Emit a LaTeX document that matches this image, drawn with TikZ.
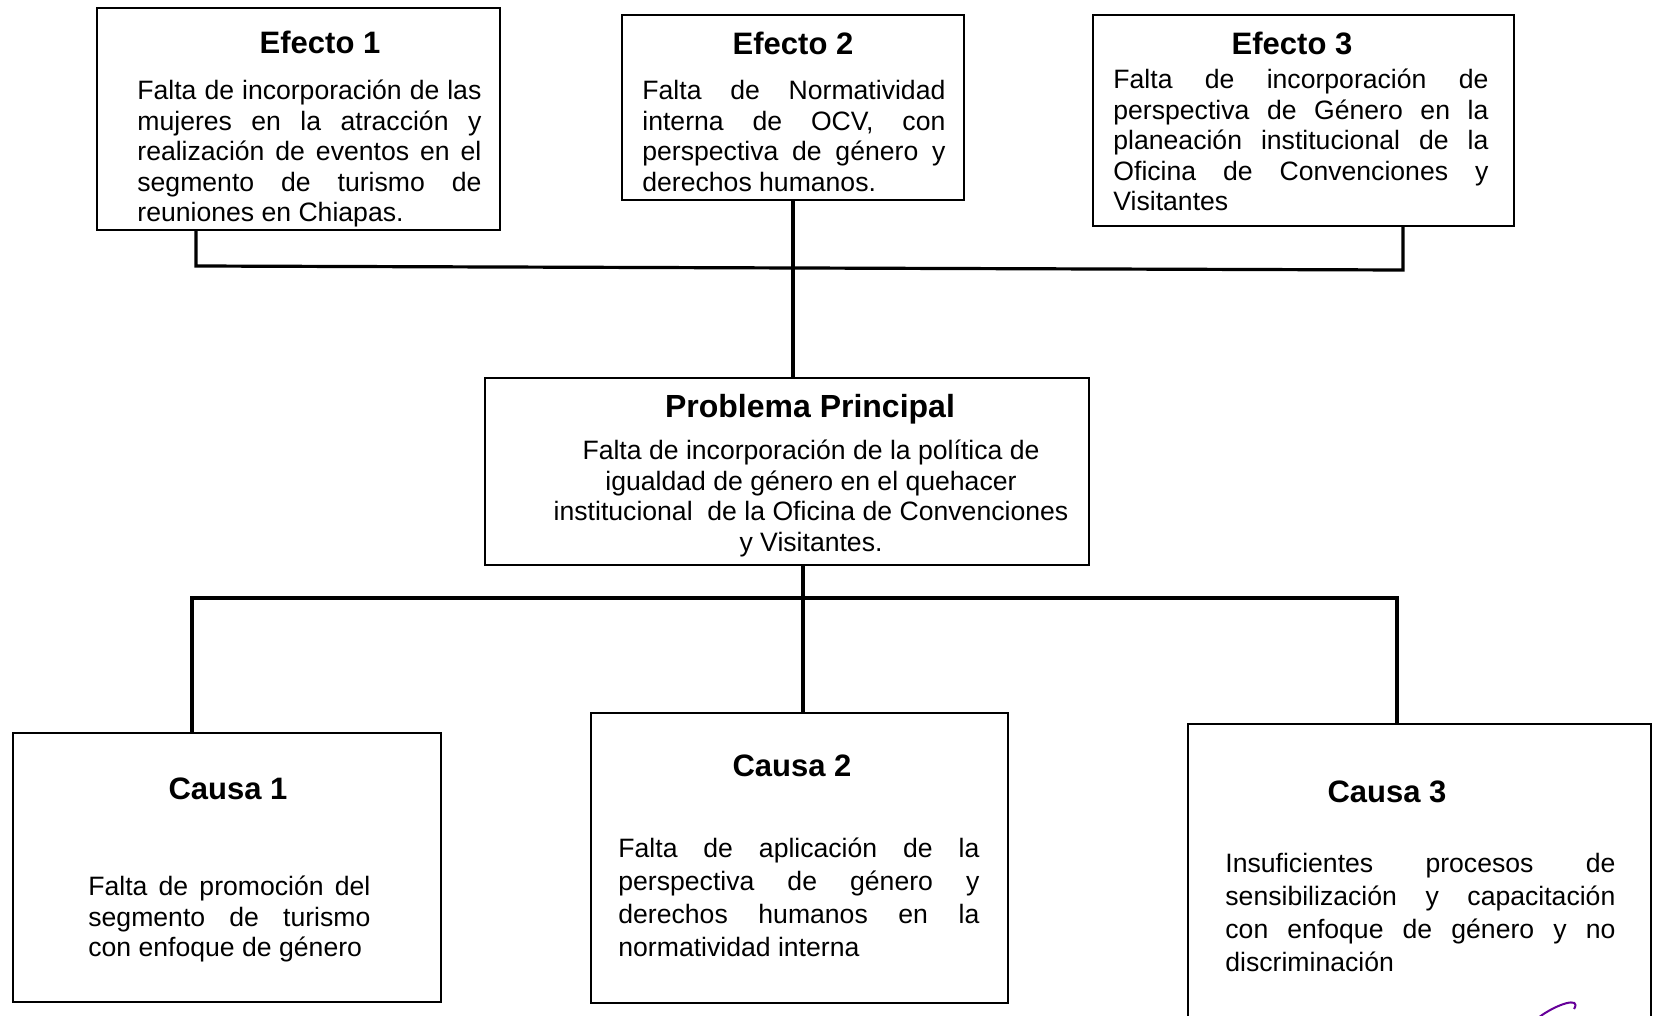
\documentclass[tikz,border=0pt]{standalone}
\usepackage{fontspec}
\setmainfont{Liberation Sans}
\begin{document}
\begin{tikzpicture}[x=0.5pt,y=-0.5pt,
  caja/.style={rectangle,draw,line width=0.8pt,inner sep=0pt},
  titulo/.style={font=\fontsize{15.5}{18}\selectfont\bfseries,inner sep=0pt},
  texto/.style={anchor=north west,align=justify,inner sep=0pt,font=\fontsize{13.3}{15.25}\selectfont},
  linea/.style={line width=1.6pt}]
\useasboundingbox (0,0) rectangle (1654,1016);

% efectos
\node[caja,minimum width=201.5pt,minimum height=111pt] (efecto1) at (298.5,119) {};
\node[caja,minimum width=171pt,minimum height=92.5pt] (efecto2) at (793,107.5) {};
\node[caja,minimum width=210.5pt,minimum height=105.5pt] (efecto3) at (1303.5,120.5) {};
% problema
\node[caja,minimum width=302pt,minimum height=93.5pt] (problema) at (787,471.5) {};
% causas
\node[caja,minimum width=214pt,minimum height=134.5pt] (causa1) at (227,867.5) {};
\node[caja,minimum width=208.5pt,minimum height=145pt] (causa2) at (799.5,858) {};
\node[caja,minimum width=231.5pt,minimum height=149pt] (causa3) at (1419.5,873) {};

\path
(320,42) node [titulo] (tE1) {Efecto 1}
(793,43) node [titulo] (tE2) {Efecto 2}
(1292,43) node [titulo] (tE3) {Efecto 3}
(810,409) node [titulo,font=\fontsize{16}{19}\selectfont\bfseries] (tPP) {Problema Principal}
(228,789) node [titulo] (tC1) {Causa 1}
(792,766) node [titulo] (tC2) {Causa 2}
(1387,792) node [titulo] (tC3) {Causa 3}
;

\path
(137,80) node [texto,text width=172pt] (bE1) {Falta de incorporación de las\linebreak mujeres en la atracción y\linebreak realización de eventos en el\linebreak segmento de turismo de\linebreak reuniones en Chiapas.}
(642,80) node [texto,text width=151.5pt] (bE2) {Falta de Normatividad\linebreak interna de OCV, con\linebreak perspectiva de género y\linebreak derechos humanos.}
(1113,69) node [texto,text width=187.5pt] (bE3) {Falta de incorporación de\linebreak perspectiva de Género en la\linebreak planeación institucional de la\linebreak Oficina de Convenciones y\linebreak Visitantes}
(811,440) node [texto,anchor=north,align=center] (bPP) {Falta de incorporación de la política de\\igualdad de género en el quehacer\\institucional\ \ de la Oficina de Convenciones\\y Visitantes.}
(88,876) node [texto,text width=141pt] (bC1) {Falta de promoción del\linebreak segmento de turismo\linebreak con enfoque de género}
(618,838) node [texto,text width=180.5pt,font=\fontsize{13.3}{16.5}\selectfont] (bC2) {Falta de aplicación de la\linebreak perspectiva de género y\linebreak derechos humanos en la\linebreak normatividad interna}
(1225,853) node [texto,text width=195pt,font=\fontsize{13.3}{16.5}\selectfont] (bC3) {Insuficientes procesos de\linebreak sensibilización y capacitación\linebreak con enfoque de género y no\linebreak discriminación}
;

% conectores
\coordinate (jE1) at (196,266);
\coordinate (jE3) at (1403,270);
\coordinate (jC1) at (192,598);
\coordinate (jC2) at (803,598);
\coordinate (jC3) at (1397,598);
\draw[linea] (efecto1.south -| jE1) -- (jE1) -- (jE3) -- (efecto3.south -| jE3);
\draw[linea] (efecto2.south) -- (efecto2.south |- problema.north);
\draw[linea] (jC1 |- causa1.north) -- (jC1) -- (jC3) -- (jC3 |- causa3.north);
\draw[linea] (problema.south -| jC2) -- (jC2 |- causa2.north);

%\draw (1540,1016) circle (2);
\draw[violet!80!blue,line width=1pt] (1538,1018) .. controls (1556,1004) and (1582,996) .. (1574,1009);
\end{tikzpicture}
\end{document}
